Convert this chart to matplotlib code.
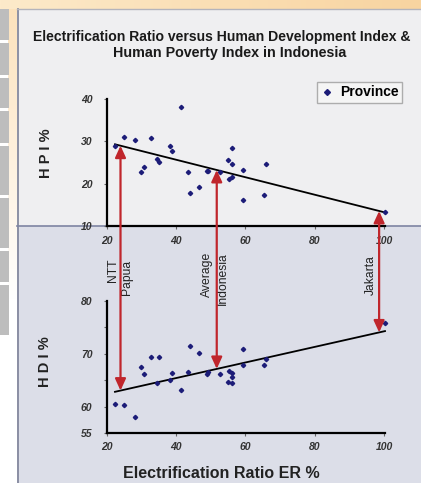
import numpy as np
import matplotlib
matplotlib.use('Agg')
import matplotlib.pyplot as plt
from matplotlib.patches import Rectangle, ConnectionPatch, ArrowStyle
from matplotlib.lines import Line2D
import matplotlib.transforms as mtransforms

plt.rcParams['font.family'] = ['Liberation Sans', 'DejaVu Sans']

# ---------------- data ----------------
er = [22.3, 24.9, 28.1, 29.8, 30.7, 32.7, 34.3, 35.1, 38.3, 38.8, 41.3, 43.4, 44.0, 46.6,
      48.9, 49.3, 52.5, 54.9, 55.2, 56.2, 56.2, 56.2, 59.4, 59.2, 65.3, 65.8, 100.3]
hpi = [28.9, 31.0, 30.2, 22.7, 23.9, 30.8, 25.8, 25.1, 28.8, 27.7, 38.1, 22.7, 17.9, 19.1,
       22.9, 22.9, 22.8, 25.5, 21.0, 24.6, 28.4, 21.6, 23.2, 16.1, 17.3, 24.7, 13.2]
hdi = [60.5, 60.3, 58.0, 67.5, 66.2, 69.4, 64.5, 69.4, 65.0, 66.3, 63.2, 66.5, 71.4, 70.2,
       66.2, 66.6, 66.2, 64.7, 66.7, 66.4, 65.7, 64.4, 71.0, 67.9, 67.8, 69.0, 75.8]
trend_er = [22.3, 100.3]
hpi_trend = [29.3, 13.2]
hdi_trend = [62.8, 74.3]
arrow_er = [23.9, 51.7, 98.6]
arrow_labels = [('NTT', 'Papua'), ('Average', 'Indonesia'), ('Jakarta',)]
x_ticks = [20, 40, 60, 80, 100]
hpi_ticks = [10, 20, 30, 40]
hdi_ticks = [55, 60, 65, 70, 75, 80]
hdi_tick_labels = ['55', '60', '', '70', '', '80']

W, H = 421, 483
fig = plt.figure(figsize=(W / 100, H / 100), dpi=100)
fig.patch.set_facecolor('white')

# ---------------- slide background ----------------
bg = fig.add_axes([0, 0, 1, 1], zorder=-10)
bg.set_xlim(0, W)
bg.set_ylim(0, H)
bg.axis('off')


def rect(x0, y0, x1, y1, color, **kw):
    bg.add_patch(Rectangle((x0, H - y1), x1 - x0, y1 - y0, facecolor=color, edgecolor='none', **kw))


# top orange strip (horizontal gradient)
c0 = np.array([253, 234, 202]) / 255
c1 = np.array([248, 212, 160]) / 255
t = np.linspace(0, 1, 256)[None, :, None]
img = c0 * (1 - t) + c1 * t
bg.imshow(img, extent=(0, W, H - 9, H), aspect='auto', zorder=0)
# left cream strip (vertical gradient)
t2 = np.linspace(0, 1, 256)[:, None, None]
ca = np.array([252, 226, 188]) / 255
cb = np.array([255, 255, 255]) / 255
img2 = ca * (1 - t2) + cb * t2
bg.imshow(img2, extent=(8, 17, H - 300, H - 9), aspect='auto', zorder=0)

# gray boxes on left
for y0, y1 in [(9, 40), (43, 75), (78, 108), (111, 143), (146, 195), (198, 248), (251, 282), (285, 335)]:
    rect(0, y0, 8.5, y1, '#bdbdbd', zorder=1)

# panel
rect(17, 9, W, 226, '#efeff1', zorder=1)
rect(17, 226, W, H, '#dcdee8', zorder=1)
bg.plot([17.5, 17.5], [0, H - 9], color='#7c8198', lw=1.2, zorder=2)
bg.plot([17, W], [H - 9, H - 9], color='#b4b4bc', lw=1.0, zorder=2)
bg.plot([17, W], [H - 226, H - 226], color='#7e84a2', lw=1.2, zorder=2)

navy = '#1c1c78'
red = '#c0262c'
tick_font = dict(fontsize=7.5, fontweight='bold', fontstyle='italic', color='#333333')

# ---------------- axes ----------------
ax1 = fig.add_axes([107 / W, 1 - 226 / H, (385 - 107) / W, (226 - 99) / H])
ax2 = fig.add_axes([107 / W, 1 - 433 / H, (385 - 107) / W, (433 - 301) / H])

for ax in (ax1, ax2):
    ax.set_facecolor('none')
    for s in ('top', 'right'):
        ax.spines[s].set_visible(False)
    for s in ('left', 'bottom'):
        ax.spines[s].set_linewidth(1.6)
        ax.spines[s].set_color('black')
    ax.set_xlim(20, 100.3)
    ax.set_xticks(x_ticks)
    ax.set_xticklabels([str(v) for v in x_ticks], **tick_font)
    ax.tick_params(axis='both', direction='out', length=2.5, width=0.8, color='#666666')
    ax.tick_params(axis='x', pad=5)
    ax.tick_params(axis='y', pad=8)

ax1.set_ylim(10, 40)
ax1.set_yticks(hpi_ticks)
ax1.set_yticklabels([str(v) for v in hpi_ticks], **tick_font)
ax2.set_ylim(55, 80)
ax2.set_yticks(hdi_ticks)
ax2.set_yticklabels(hdi_tick_labels, **tick_font)
ax2.tick_params(axis='x', pad=4)

ax1.plot(er, hpi, ls='none', marker='D', ms=2.2, color=navy, clip_on=False, zorder=3)
ax2.plot(er, hdi, ls='none', marker='D', ms=2.2, color=navy, clip_on=False, zorder=3)
ax1.plot(trend_er, hpi_trend, color='black', lw=1.3, clip_on=False, zorder=2)
ax2.plot(trend_er, hdi_trend, color='black', lw=1.3, clip_on=False, zorder=2)

# arrows between trend lines
style = ArrowStyle('<|-|>', head_length=0.35, head_width=0.16)
for xa in arrow_er:
    ya_top = np.interp(xa, trend_er, hpi_trend)
    ya_bot = np.interp(xa, trend_er, hdi_trend)
    cp = ConnectionPatch(xyA=(xa, ya_bot), coordsA=ax2.transData,
                         xyB=(xa, ya_top), coordsB=ax1.transData,
                         arrowstyle=style, mutation_scale=20, color=red, lw=1.6,
                         shrinkA=0, shrinkB=0, zorder=4)
    fig.add_artist(cp)

# arrow labels
label_offsets = [(-7.5, 6.5), (-10, 6), (-8,)]
label_tops = [(258, 260), (252, 252), (255,)]
base = mtransforms.blended_transform_factory(ax2.transData, fig.transFigure)
for xa, labs, offs, tops in zip(arrow_er, arrow_labels, label_offsets, label_tops):
    for lab, dx, top in zip(labs, offs, tops):
        tr = base + mtransforms.ScaledTranslation(dx / 100, 0, fig.dpi_scale_trans)
        fig.text(xa, 1 - top / H, lab, transform=tr, rotation=90, ha='center', va='top',
                 fontsize=8.7, color='#222222')

# legend
h = Line2D([], [], ls='none', marker='D', ms=3, color=navy, label='Province')
leg = ax1.legend(handles=[h], loc='upper right', bbox_to_anchor=(402 / W, 1 - 82 / H),
                 bbox_transform=fig.transFigure, borderaxespad=0, frameon=True, fancybox=False,
                 prop=dict(size=10, weight='bold'), handlelength=0.9, handletextpad=0.5,
                 borderpad=0.25)
leg.get_frame().set_edgecolor('#9c9c9c')
leg.get_frame().set_facecolor('#f7f7f7')
leg.get_frame().set_linewidth(1.0)

# titles / labels
fig.text(33 / W, 1 - 37 / H, 'Electrification Ratio versus Human Development Index &',
         ha='left', va='center', fontsize=10.1, fontweight='bold', color='#1a1a1a')
fig.text(230 / W, 1 - 53 / H, 'Human Poverty Index in Indonesia',
         ha='center', va='center', fontsize=10.3, fontweight='bold', color='#1a1a1a')
fig.text(46 / W, 1 - 153 / H, 'H P I %', rotation=90, ha='center', va='center',
         fontsize=10.5, fontweight='bold', color='#222222')
fig.text(45 / W, 1 - 362 / H, 'H D I %', rotation=90, ha='center', va='center',
         fontsize=10.5, fontweight='bold', color='#222222')
fig.text(221 / W, 1 - 473 / H, 'Electrification Ratio ER %', ha='center', va='center',
         fontsize=11.5, fontweight='bold', color='#222222')

fig.savefig('out.png', dpi=100)
